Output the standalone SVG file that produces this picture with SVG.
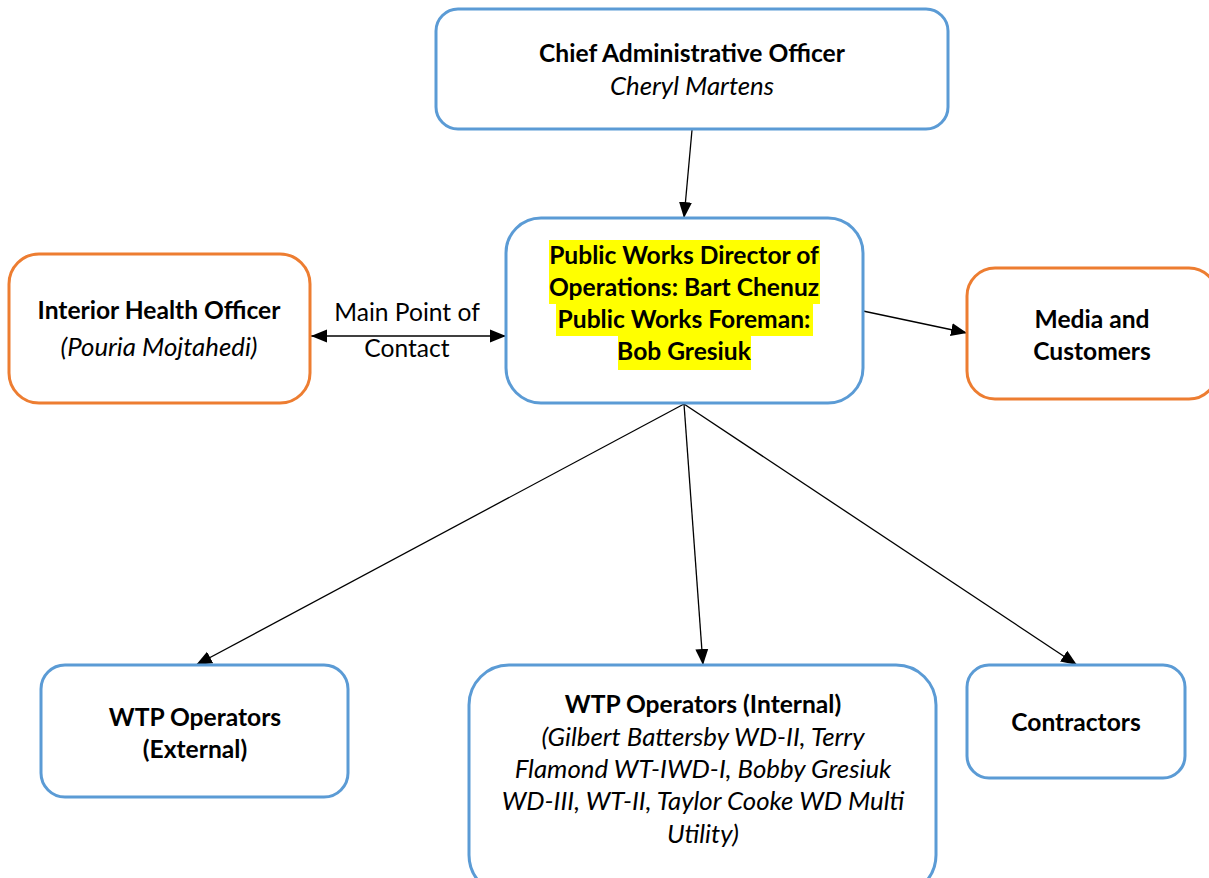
<svg xmlns="http://www.w3.org/2000/svg" width="1209" height="878" viewBox="0 0 1209 878">
<style>
.box{fill:#fff;stroke-width:3}
.blue{stroke:#5B9BD5}
.orange{stroke:#ED7D31}
text{font-family:Lato,"Liberation Sans",sans-serif;font-size:24.6px;fill:#000;text-anchor:middle}
.b{font-weight:bold}
.i{font-style:italic;font-size:25.8px}
.hl{fill:#FFFF00}
.conn line{stroke:#000;stroke-width:1.3}
</style>
<defs>
<marker id="ah" markerUnits="userSpaceOnUse" markerWidth="17" markerHeight="14" refX="16" refY="7" orient="auto-start-reverse">
<path d="M0,0.5 L16,7 L0,13.5 Z" fill="#000"/>
</marker>
</defs>
<g class="conn">
<line x1="692" y1="130" x2="684" y2="218" marker-end="url(#ah)"/>
<line x1="311" y1="336" x2="506" y2="336" marker-start="url(#ah)" marker-end="url(#ah)"/>
<line x1="863" y1="311" x2="967" y2="333" marker-end="url(#ah)"/>
<line x1="684" y1="404" x2="196" y2="665" marker-end="url(#ah)"/>
<line x1="684" y1="404" x2="703" y2="665" marker-end="url(#ah)"/>
<line x1="684" y1="404" x2="1077" y2="665" marker-end="url(#ah)"/>
</g>
<g id="cao">
<rect class="box blue" x="436" y="9" width="512" height="120" rx="22"/>
<text x="692" y="62" class="b">Chief Administrative Officer</text>
<text x="692" y="95" class="i">Cheryl Martens</text>
</g>
<g id="director">
<rect class="box blue" x="506" y="218" width="357" height="185" rx="35"/>
<rect class="hl" x="549" y="240" width="271" height="32"/>
<rect class="hl" x="549" y="272" width="271" height="32"/>
<rect class="hl" x="556" y="304" width="257" height="32"/>
<rect class="hl" x="618" y="336" width="133" height="34"/>
<text x="684" y="264" class="b">Public Works Director of</text>
<text x="684" y="296" class="b">Operations: Bart Chenuz</text>
<text x="684" y="328" class="b">Public Works Foreman:</text>
<text x="684" y="360" class="b">Bob Gresiuk</text>
</g>
<g id="iho">
<rect class="box orange" x="9" y="254" width="301" height="149" rx="30"/>
<text x="159" y="319" class="b">Interior Health Officer</text>
<text x="159" y="356" class="i">(Pouria Mojtahedi)</text>
</g>
<g id="contact-label">
<text x="407" y="321">Main Point of</text>
<text x="407" y="357">Contact</text>
</g>
<g id="media">
<rect class="box orange" x="967" y="268" width="250" height="131" rx="28"/>
<text x="1092" y="328" class="b">Media and</text>
<text x="1092" y="360" class="b">Customers</text>
</g>
<g id="wtp-external">
<rect class="box blue" x="41" y="665" width="307" height="132" rx="24"/>
<text x="195" y="726" class="b">WTP Operators</text>
<text x="195" y="758" class="b">(External)</text>
</g>
<g id="wtp-internal">
<rect class="box blue" x="469" y="665" width="467" height="230" rx="40"/>
<text x="703" y="713" class="b">WTP Operators (Internal)</text>
<text x="703" y="746" class="i">(Gilbert Battersby WD-II, Terry</text>
<text x="703" y="778" class="i">Flamond WT-IWD-I, Bobby Gresiuk</text>
<text x="703" y="810" class="i">WD-III, WT-II, Taylor Cooke WD Multi</text>
<text x="703" y="843" class="i">Utility)</text>
</g>
<g id="contractors">
<rect class="box blue" x="967" y="665" width="218" height="113" rx="22"/>
<text x="1076" y="731" class="b">Contractors</text>
</g>
</svg>
